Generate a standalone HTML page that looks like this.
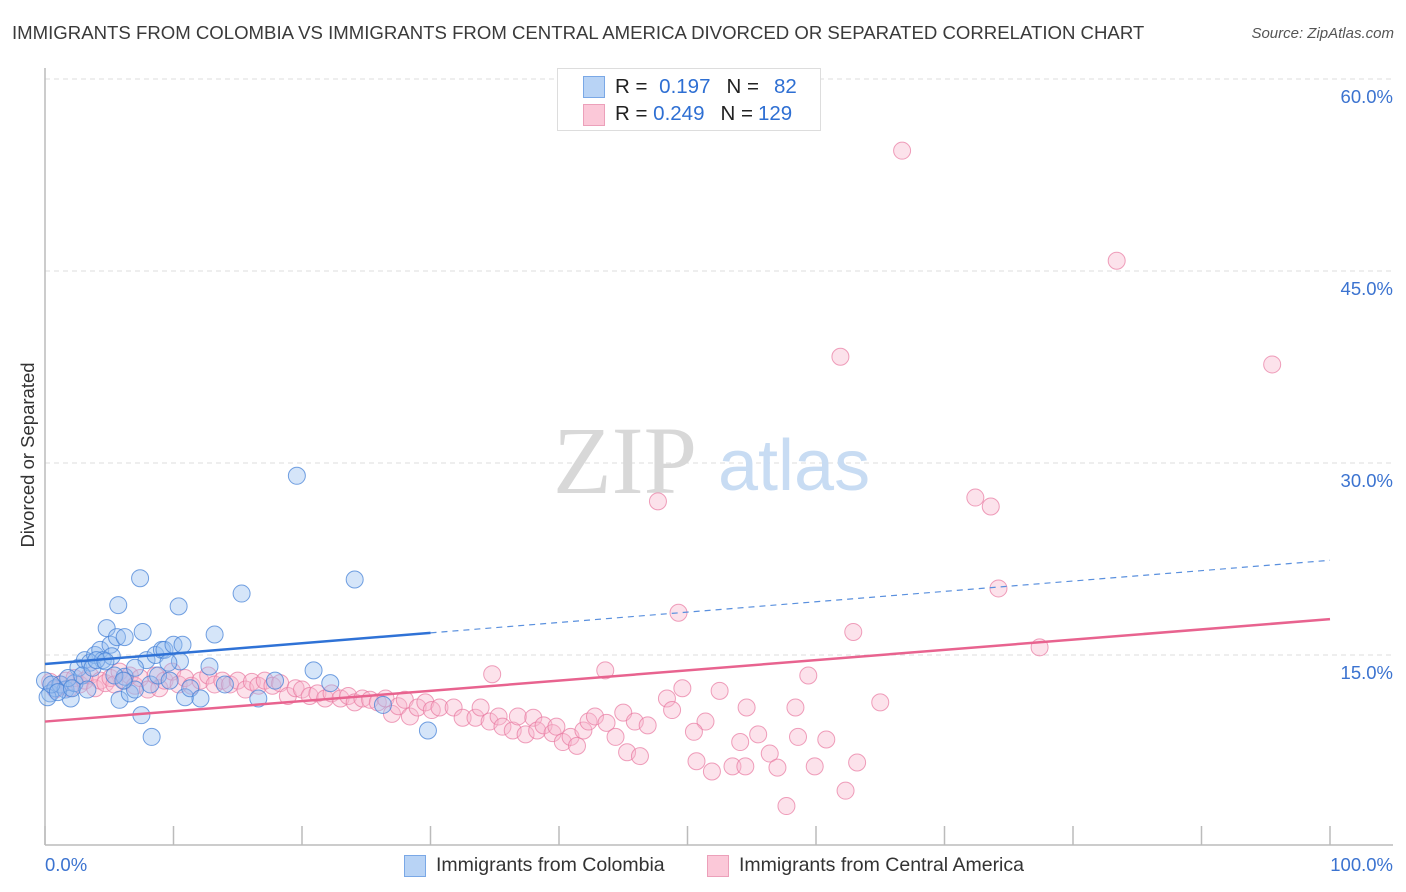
<!DOCTYPE html>
<html><head><meta charset="utf-8">
<style>
body{margin:0;background:#fff;font-family:"Liberation Sans",sans-serif;}
#wrap{position:relative;width:1406px;height:892px;overflow:hidden;}
.t{position:absolute;white-space:nowrap;}
</style></head>
<body>
<div id="wrap">
<div class="t" style="left:12px;top:22px;font-size:18.6px;color:#3a3a3a;">IMMIGRANTS FROM COLOMBIA VS IMMIGRANTS FROM CENTRAL AMERICA DIVORCED OR SEPARATED CORRELATION CHART</div>
<div class="t" style="right:12px;top:25px;font-size:15px;color:#555;font-style:italic;">Source: ZipAtlas.com</div>
<svg id="svg" width="1406" height="892" style="position:absolute;left:0;top:0"></svg>
<div class="t" style="left:28px;top:455px;font-size:18.5px;color:#333;transform:translate(-50%,-50%) rotate(-90deg);">Divorced or Separated</div>
<div style="position:absolute;left:557px;top:68px;width:262px;height:61px;border:1px solid #ddd;background:#fff;font-size:20.5px;color:#222;">
  <div style="position:absolute;left:25px;top:7px;width:20px;height:20px;background:#b8d3f5;border:1px solid #7aa8e6;"></div>
  <div class="t" style="left:57px;top:6px;">R = <span style="color:#2e6fd3;margin-left:6px">0.197</span><span style="margin-left:16px">N =</span><span style="color:#2e6fd3;margin-left:15px">82</span></div>
  <div style="position:absolute;left:25px;top:35px;width:20px;height:20px;background:#fbc8d8;border:1px solid #eca0ba;"></div>
  <div class="t" style="left:57px;top:33px;">R = <span style="color:#2e6fd3">0.249</span><span style="margin-left:16px">N =</span><span style="color:#2e6fd3;margin-left:5px">129</span></div>
</div>
<div style="position:absolute;left:404px;top:854px;font-size:19.5px;color:#333;">
  <div style="position:absolute;left:0;top:1px;width:20px;height:20px;background:#b8d3f5;border:1px solid #7aa8e6;"></div>
  <div class="t" style="left:32px;top:0;">Immigrants from Colombia</div>
</div>
<div style="position:absolute;left:707px;top:854px;font-size:19.5px;color:#333;">
  <div style="position:absolute;left:0;top:1px;width:20px;height:20px;background:#fbc8d8;border:1px solid #eca0ba;"></div>
  <div class="t" style="left:32px;top:0;">Immigrants from Central America</div>
</div>
</div>
<script>
const yTicks=[15,30,45,60];
const xTickLabels=["0.0%","100.0%"];
const blueX=[0,0.4,0.8,1.2,1.6,2.0,2.3,2.6,3.1,3.5,3.9,4.3,4.5,4.8,5.1,5.2,5.6,5.7,5.8,6.2,6.2,6.6,7.0,7.4,7.5,7.6,7.9,8.2,8.3,8.6,8.8,9.1,9.3,9.7,10.0,10.4,10.5,10.7,10.9,11.3,12.1,12.8,13.2,14.0,15.3,16.6,17.9,19.6,20.9,22.2,24.1,26.3,29.8,0.2,0.5,1.0,1.8,2.1,2.9,3.3,3.7,4.0,4.7,5.4,6.1,7.0,9.6];
const blueY=[13.0,12.0,12.4,12.7,12.3,11.6,12.8,14.0,14.6,14.4,15.0,15.4,14.6,17.1,15.8,14.9,16.4,18.9,11.5,16.4,13.3,12.0,12.3,21.0,10.3,16.8,14.6,12.7,8.6,15.0,13.4,15.4,15.4,13.0,15.8,18.8,14.5,15.8,11.7,12.4,11.6,14.1,16.6,12.7,19.8,11.6,13.0,29.0,13.8,12.8,20.9,11.1,9.1,11.7,12.7,12.1,13.2,12.4,13.4,12.3,14.0,14.6,14.5,13.4,13.0,14.0,14.4];
const pinkX=[0.4,0.8,1.2,1.6,1.9,2.3,2.7,3.1,3.5,3.9,4.3,4.7,5.1,5.4,5.8,6.2,6.6,7.0,7.4,8.0,8.6,8.9,9.3,9.9,10.4,10.9,11.4,12.1,12.7,13.2,13.8,14.4,15.0,15.6,16.1,16.6,17.1,17.7,18.3,18.9,19.5,20.0,20.6,21.2,21.8,22.3,23.0,23.6,24.1,24.7,25.3,25.9,26.5,27.0,27.5,28.0,28.4,29.0,29.6,30.1,
30.7,31.8,32.5,33.5,33.9,34.6,35.3,35.6,36.4,36.8,37.4,38.0,38.3,38.8,39.5,39.8,40.3,40.9,41.4,41.9,42.3,42.8,43.7,44.4,45.0,45.3,45.9,46.3,46.9,
34.8,43.6,48.4,49.6,48.8,52.5,54.6,58.4,59.4,65.0,51.4,50.5,54.1,55.5,58.6,60.8,56.4,50.7,51.9,53.5,54.5,57.0,59.9,63.2,62.3,57.7,
66.7,83.4,61.9,95.5,47.7,72.4,73.6,74.2,49.3,62.9,77.4];
const pinkY=[12.9,12.3,12.7,13.0,12.4,13.2,12.7,13.0,13.4,12.4,13.0,12.8,13.2,12.7,13.7,13.0,13.4,12.6,13.2,12.3,13.4,12.4,13.0,13.7,12.7,13.2,12.6,13.0,13.4,12.7,13.0,12.7,13.0,12.3,12.9,12.6,13.0,12.6,12.8,11.8,12.4,12.3,11.8,12.0,11.6,12.0,11.6,11.8,11.3,11.6,11.5,11.3,11.6,10.4,11.0,11.5,10.2,10.9,11.3,10.7,
10.9,10.9,10.1,10.1,10.9,9.8,10.2,9.4,9.1,10.2,8.8,10.1,9.1,9.5,8.9,9.4,8.2,8.6,7.9,9.1,9.8,10.2,9.7,8.6,10.5,7.4,9.8,7.1,9.5,
13.5,13.8,11.6,12.4,10.7,12.2,10.9,10.9,13.4,11.3,9.8,9.0,8.2,8.8,8.6,8.4,7.3,6.7,5.9,6.3,6.3,6.2,6.3,6.6,4.4,3.2,
54.4,45.8,38.3,37.7,27.0,27.3,26.6,20.2,18.3,16.8,15.6];
const blueLine=[14.3,22.4];   // y at x=0, x=100
const blueSolidEnd=30;
const pinkLine=[9.8,17.8];

const NS="http://www.w3.org/2000/svg";
const svg=document.getElementById('svg');
const X=v=>45+v*12.85;
const Y=v=>847-v*12.8;
function el(tag,attrs,parent){const e=document.createElementNS(NS,tag);for(const k in attrs)e.setAttribute(k,attrs[k]);(parent||svg).appendChild(e);return e;}

yTicks.forEach(t=>{
  const g=el('line',{x1:45,x2:1393,y1:Y(t),y2:Y(t),stroke:'#ddd','stroke-dasharray':'5,4','stroke-width':1});
  
  
  const tx=el('text',{x:1393,y:Y(t)+24,'text-anchor':'end','font-size':18.5,fill:'#3b73d0','font-family':'Liberation Sans, sans-serif'});
  tx.textContent=t.toFixed(1)+'%';
  
  
});
const ax=el('line',{x1:45,x2:1393,y1:845,y2:845,stroke:'#bbb','stroke-width':1.5});


const ay=el('line',{x1:45,x2:45,y1:68,y2:845,stroke:'#bbb','stroke-width':1.5});


for(let i=0;i<=10;i++){
  const tk=el('line',{x1:X(i*10),x2:X(i*10),y1:826,y2:845,stroke:'#bbb','stroke-width':1.5});
  
  
}
[[0,'start',xTickLabels[0]],[100,'end',xTickLabels[1]]].forEach(([v,a,s])=>{
  const tx=el('text',{x:v===0?X(v):1393,y:871,'text-anchor':a,'font-size':18.5,fill:'#3b73d0','font-family':'Liberation Sans, sans-serif'});
  tx.textContent=s;
  
  
});
const w1=el('text',{x:553,y:493,'font-size':96,fill:'#d8d8d8','font-family':'Liberation Serif, serif'});w1.textContent='ZIP';


const w2=el('text',{x:718,y:490,'font-size':72,fill:'#c8dcf3','font-family':'Liberation Sans, sans-serif'});w2.textContent='atlas';



pinkX.forEach((x,i)=>{
  const c=el('circle',{cx:X(x),cy:Y(pinkY[i]),r:8.5,fill:'rgba(248,182,204,0.4)',stroke:'rgba(232,120,160,0.7)','stroke-width':1});
  
  
});
blueX.forEach((x,i)=>{
  const c=el('circle',{cx:X(x),cy:Y(blueY[i]),r:8.5,fill:'rgba(150,190,240,0.4)',stroke:'rgba(70,130,215,0.75)','stroke-width':1});
  
  
});
const bAt=x=>blueLine[0]+(blueLine[1]-blueLine[0])*x/100;
const pAt=x=>pinkLine[0]+(pinkLine[1]-pinkLine[0])*x/100;
const bl=el('line',{x1:X(0),y1:Y(bAt(0)),x2:X(blueSolidEnd),y2:Y(bAt(blueSolidEnd)),stroke:'#2f72d6','stroke-width':2.5});


const bd=el('line',{x1:X(blueSolidEnd),y1:Y(bAt(blueSolidEnd)),x2:X(100),y2:Y(bAt(100)),stroke:'#5a90de','stroke-width':1.2,'stroke-dasharray':'6,5'});


const pl=el('line',{x1:X(0),y1:Y(pAt(0)),x2:X(100),y2:Y(pAt(100)),stroke:'#e8638f','stroke-width':2.5});


</script>
</body></html>
